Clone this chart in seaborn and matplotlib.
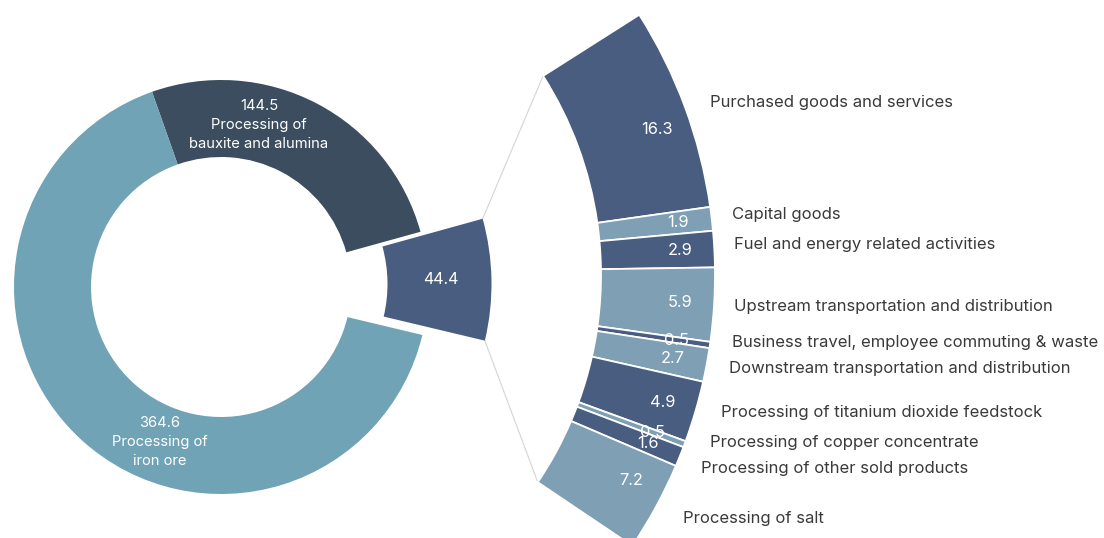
import matplotlib
matplotlib.use("Agg")
import matplotlib.pyplot as plt
import seaborn as sns
import numpy as np

# Datos del grafico
main_labels = ["44.4", "Processing of\nbauxite and alumina", "Processing of\niron ore"]
main_values = [44.4, 144.5, 364.6]

sub_labels = [
    "Purchased goods and services",
    "Capital goods",
    "Fuel and energy related activities",
    "Upstream transportation and distribution",
    "Business travel, employee commuting & waste",
    "Downstream transportation and distribution",
    "Processing of titanium dioxide feedstock",
    "Processing of copper concentrate",
    "Processing of other sold products",
    "Processing of salt",
]
sub_values = [16.3, 1.9, 2.9, 5.9, 0.5, 2.7, 4.9, 0.5, 1.6, 7.2]

# Colores
c_iron = "#70a3b6"
c_baux = "#3b4d5e"
c_dark = "#485d80"
c_light = "#7f9fb4"
c_text = "#3a3a3a"

sns.set_theme(style="white")
plt.rcParams['font.family'] = ['Inter', 'DejaVu Sans']

W, H = 1104, 538
fig = plt.figure(figsize=(W / 100, H / 100), dpi=100)
ax = fig.add_axes([0, 0, 1, 1])

# Dona principal (coordenadas en pixeles, y hacia arriba)
donut_c = (221, H - 287)
wedges, _ = ax.pie(main_values, colors=[c_dark, c_baux, c_iron], startangle=-13.4,
                   counterclock=True, radius=207, center=donut_c, frame=True,
                   wedgeprops=dict(width=77, linewidth=0))

# Segmento separado (44.4) mas grande y desplazado
exp = wedges[0]
exp.set_center((247, H - 284))
exp.set_radius(244.5)
exp.set_width(104)

# Anillo parcial con el desglose de 44.4
ring_c = (230, H - 275)
ring_r, ring_w = 485, 114
span = 66.4
start = 32.45
fracs = [v / sum(sub_values) * span / 360 for v in sub_values]
sub_colors = [c_dark if i % 2 == 0 else c_light for i in range(len(sub_values))]
ring_wedges, _ = ax.pie(fracs, colors=sub_colors, startangle=start, counterclock=False,
                        normalize=False, radius=ring_r, center=ring_c, frame=True,
                        wedgeprops=dict(width=ring_w, linewidth=1.3, edgecolor="white"))

ax.set_xlim(0, W)
ax.set_ylim(0, H)
ax.set_aspect("equal")
ax.axis("off")

# Lineas de conexion
def polar(c, r, ang):
    a = np.deg2rad(ang)
    return c[0] + r * np.cos(a), c[1] + r * np.sin(a)

p1 = polar(exp.center, exp.r, exp.theta2)
p2 = polar(exp.center, exp.r, exp.theta1)
q1 = polar(ring_c, ring_r - ring_w, start)
q2 = polar(ring_c, ring_r - ring_w, start - span)
ax.plot([p1[0], q1[0]], [p1[1], q1[1]], color="#d4d4d4", lw=0.8, zorder=0)
ax.plot([p2[0], q2[0]], [p2[1], q2[1]], color="#d4d4d4", lw=0.8, zorder=0)

# Etiquetas de la dona
fs_in = 10.6
ax.text(441, H - 279, f"{main_values[0]}", color="white", fontsize=11.5, ha="center", va="center")
ax.text(259, H - 125, f"{main_values[1]}\n{main_labels[1]}", color="white", fontsize=fs_in,
        ha="center", va="center", linespacing=1.45)
ax.text(160, H - 442, f"{main_values[2]}\n{main_labels[2]}", color="white", fontsize=fs_in,
        ha="center", va="center", linespacing=1.45)

# Valores dentro del anillo (pequeño ajuste de angulo en los extremos)
ang_nudge = [-1.5, 0, 0, 0, 0, 0, 0, 0, 0, 1.4]
for w, v, dn in zip(ring_wedges, sub_values, ang_nudge):
    mid = (w.theta1 + w.theta2) / 2 + dn
    x, y = polar(ring_c, 451, mid)
    ax.text(x, y, f"{v}", color="white", fontsize=11.8, ha="center", va="center")

# Etiquetas de categorias (posiciones a mano)
label_pos = [(710, 103), (732, 215), (734, 244), (734, 307), (732, 343),
             (729, 369), (721, 413), (710, 442), (701, 468), (683, 518)]
for lab, (x, y) in zip(sub_labels, label_pos):
    ax.text(x, H - y, lab, color=c_text, fontsize=12.0, ha="left", va="center")

fig.savefig("out.png", dpi=100)
